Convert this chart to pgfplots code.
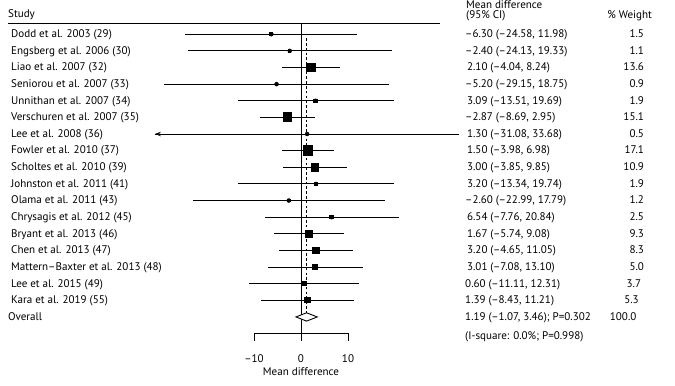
\documentclass[border=0pt]{standalone}
\usepackage{fontspec}
\setmainfont{PT Sans}
\usepackage{pgfplots}
\pgfplotsset{compat=1.18}
\usepackage{pgfplotstable}
\usetikzlibrary{arrows.meta}
\tikzset{lab/.style={font=\fontsize{11.1}{13}\selectfont, text height=1.5ex, text depth=0.3ex, inner sep=0pt}}

\pgfplotstableread{
row md lo hi w
1 -6.30 -24.58 11.98 1.5
2 -2.40 -24.13 19.33 1.1
3 2.10 -4.04 8.24 13.6
4 -5.20 -29.15 18.75 0.9
5 3.09 -13.51 19.69 1.9
6 -2.87 -8.69 2.95 15.1
7 1.30 -31.08 33.68 0.5
8 1.50 -3.98 6.98 17.1
9 3.00 -3.85 9.85 10.9
10 3.20 -13.34 19.74 1.9
11 -2.60 -22.99 17.79 1.2
12 6.54 -7.76 20.84 2.5
13 1.67 -5.74 9.08 9.3
14 3.20 -4.65 11.05 8.3
15 3.01 -7.08 13.10 5.0
16 0.60 -11.11 12.31 3.7
17 1.39 -8.43 11.21 5.3
}\studies

\begin{document}
\fontsize{11.1}{13}\selectfont
\begin{tikzpicture}
\begin{axis}[
  scale only axis, width=675bp, height=385bp,
  xmin=-64.04, xmax=79.57, ymin=-1.0445, ymax=22.107,
  y dir=reverse, hide axis, clip=false,
]
\draw[draw=none] (rel axis cs:0,0) rectangle (rel axis cs:1,1);
% rules and axis
\addplot[black, line width=0.9pt] coordinates {(-62.34,0.34) (29.57,0.34)};
\addplot[black, line width=0.9pt] coordinates {(0,0.34) (0,19.42)};
\addplot[black, line width=0.9pt] coordinates {(-10,19.42) (-10,19) (10,19) (10,19.42)};
% confidence intervals
\addplot[only marks, mark=none, error bars/.cd, x dir=both, x explicit, error mark=none,
  error bar style={black, line width=0.95pt}]
  table[x=md, y=row, x error plus expr=\thisrow{hi}-\thisrow{md}, x error minus expr=\thisrow{md}-\thisrow{lo}] {\studies};
\addplot[black, line width=0.8pt, -{Stealth[length=6pt,width=4.5pt]}] coordinates {(-28,7) (-31.08,7)};
% overall dashed line
\addplot[black, line width=1.2pt, dash pattern=on 2.6pt off 2.2pt] coordinates {(1.19,1.24) (1.19,17.75)};
% squares
\addplot[scatter, only marks, mark=square*,
  scatter/use mapped color={draw=black, fill=black},
  mark options={line width=0pt},
  visualization depends on={1.15*sqrt(\thisrow{w}) \as \ms},
  scatter/@pre marker code/.append style={/tikz/mark size=\ms}]
  table[x=md, y=row] {\studies};
% diamond
\addplot[draw=black, fill=white, line width=0.9pt] coordinates {(-1.07,18) (1.19,17.75) (3.46,18) (1.19,18.25)} -- cycle;

% headers
\node[lab, anchor=west] at (axis cs:-62.34,-0.2) {Study};
\node[lab, anchor=west] at (axis cs:35.1,-0.76) {Mean difference};
\node[lab, anchor=west] at (axis cs:35.1,-0.15) {(95\% CI)};
\node[lab, anchor=east] at (axis cs:74.68,-0.15) {\% Weight};

% study names
\node[lab, anchor=west] at (axis cs:-61.7,1) {Dodd et al. 2003 (29)};
\node[lab, anchor=west] at (axis cs:-61.7,2) {Engsberg et al. 2006 (30)};
\node[lab, anchor=west] at (axis cs:-61.7,3) {Liao et al. 2007 (32)};
\node[lab, anchor=west] at (axis cs:-61.7,4) {Seniorou et al. 2007 (33)};
\node[lab, anchor=west] at (axis cs:-61.7,5) {Unnithan et al. 2007 (34)};
\node[lab, anchor=west] at (axis cs:-61.7,6) {Verschuren et al. 2007 (35)};
\node[lab, anchor=west] at (axis cs:-61.7,7) {Lee et al. 2008 (36)};
\node[lab, anchor=west] at (axis cs:-61.7,8) {Fowler et al. 2010 (37)};
\node[lab, anchor=west] at (axis cs:-61.7,9) {Scholtes et al. 2010 (39)};
\node[lab, anchor=west] at (axis cs:-61.7,10) {Johnston et al. 2011 (41)};
\node[lab, anchor=west] at (axis cs:-61.7,11) {Olama et al. 2011 (43)};
\node[lab, anchor=west] at (axis cs:-61.7,12) {Chrysagis et al. 2012 (45)};
\node[lab, anchor=west] at (axis cs:-61.7,13) {Bryant et al. 2013 (46)};
\node[lab, anchor=west] at (axis cs:-61.7,14) {Chen et al. 2013 (47)};
\node[lab, anchor=west] at (axis cs:-61.7,15) {Mattern--Baxter et al. 2013 (48)};
\node[lab, anchor=west] at (axis cs:-61.7,16) {Lee et al. 2015 (49)};
\node[lab, anchor=west] at (axis cs:-61.7,17) {Kara et al. 2019 (55)};
\node[lab, anchor=west] at (axis cs:-62.34,18) {Overall};

% CI text
\node[lab, anchor=west] at (axis cs:34.9,1) {--6.30 (--24.58, 11.98)};
\node[lab, anchor=west] at (axis cs:34.9,2) {--2.40 (--24.13, 19.33)};
\node[lab, anchor=west] at (axis cs:34.9,3) {\,2.10 (--4.04, 8.24)};
\node[lab, anchor=west] at (axis cs:34.9,4) {--5.20 (--29.15, 18.75)};
\node[lab, anchor=west] at (axis cs:34.9,5) {\,3.09 (--13.51, 19.69)};
\node[lab, anchor=west] at (axis cs:34.9,6) {--2.87 (--8.69, 2.95)};
\node[lab, anchor=west] at (axis cs:34.9,7) {\,1.30 (--31.08, 33.68)};
\node[lab, anchor=west] at (axis cs:34.9,8) {\,1.50 (--3.98, 6.98)};
\node[lab, anchor=west] at (axis cs:34.9,9) {\,3.00 (--3.85, 9.85)};
\node[lab, anchor=west] at (axis cs:34.9,10) {\,3.20 (--13.34, 19.74)};
\node[lab, anchor=west] at (axis cs:34.9,11) {--2.60 (--22.99, 17.79)};
\node[lab, anchor=west] at (axis cs:34.9,12) {\,6.54 (--7.76, 20.84)};
\node[lab, anchor=west] at (axis cs:34.9,13) {\,1.67 (--5.74, 9.08)};
\node[lab, anchor=west] at (axis cs:34.9,14) {\,3.20 (--4.65, 11.05)};
\node[lab, anchor=west] at (axis cs:34.9,15) {\,3.01 (--7.08, 13.10)};
\node[lab, anchor=west] at (axis cs:34.9,16) {0.60 (--11.11, 12.31)};
\node[lab, anchor=west] at (axis cs:34.9,17) {1.39 (--8.43, 11.21)};
\node[lab, anchor=west] at (axis cs:34.9,18) {1.19 (--1.07, 3.46); P=0.302};
\node[lab, anchor=west] at (axis cs:34.9,19.16) {(I-square: 0.0\%; P=0.998)};

% weights
\node[lab, anchor=east] at (axis cs:73.0,1) {1.5};
\node[lab, anchor=east] at (axis cs:73.0,2) {1.1};
\node[lab, anchor=east] at (axis cs:73.0,3) {13.6};
\node[lab, anchor=east] at (axis cs:73.0,4) {0.9};
\node[lab, anchor=east] at (axis cs:73.0,5) {1.9};
\node[lab, anchor=east] at (axis cs:73.0,6) {15.1};
\node[lab, anchor=east] at (axis cs:73.0,7) {0.5};
\node[lab, anchor=east] at (axis cs:73.0,8) {17.1};
\node[lab, anchor=east] at (axis cs:73.0,9) {10.9};
\node[lab, anchor=east] at (axis cs:73.0,10) {1.9};
\node[lab, anchor=east] at (axis cs:73.0,11) {1.2};
\node[lab, anchor=east] at (axis cs:73.0,12) {2.5};
\node[lab, anchor=east] at (axis cs:73.0,13) {9.3};
\node[lab, anchor=east] at (axis cs:73.0,14) {8.3};
\node[lab, anchor=east] at (axis cs:73.0,15) {5.0};
\node[lab, anchor=east] at (axis cs:72.4,16) {3.7};
\node[lab, anchor=east] at (axis cs:71.9,17) {5.3};
\node[lab, anchor=east] at (axis cs:71.4,18) {100.0};

% x axis labels
\node[lab, anchor=center] at (axis cs:-10,20.54) {--10};
\node[lab, anchor=center] at (axis cs:0,20.54) {0};
\node[lab, anchor=center] at (axis cs:10,20.54) {10};
\node[lab, anchor=center] at (axis cs:0,21.32) {Mean difference};
\end{axis}
\end{tikzpicture}
\end{document}
